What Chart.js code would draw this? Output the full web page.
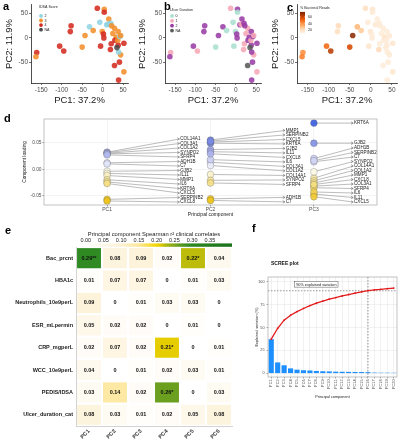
<!DOCTYPE html>
<html>
<head>
<meta charset="utf-8">
<script src="https://cdn.jsdelivr.net/npm/chart.js@4.4.1/dist/chart.umd.min.js"></script>
<style>
html,body{margin:0;padding:0;background:#fff;}
body{position:relative;width:401px;height:440px;overflow:hidden;font-family:'Liberation Sans',Arial,sans-serif;}
canvas{position:absolute;}
.lt{position:absolute;font-weight:bold;color:#000;line-height:1;font-size:11px;}
</style>
</head>
<body>
<canvas id="ca" width="133" height="106" style="left:0px;top:0px"></canvas>
<canvas id="cb" width="133" height="106" style="left:133px;top:0px"></canvas>
<canvas id="cc" width="135" height="106" style="left:266px;top:0px"></canvas>
<canvas id="cd" width="401" height="106" style="left:0px;top:112px"></canvas>
<canvas id="ce" width="240" height="218" style="left:0px;top:222px"></canvas>
<canvas id="cf" width="156" height="145" style="left:245px;top:255px"></canvas>
<div class="lt" style="left:3px;top:1px">a</div>
<div class="lt" style="left:164px;top:1px">b</div>
<div class="lt" style="left:287px;top:2px">c</div>
<div class="lt" style="left:4px;top:113px">d</div>
<div class="lt" style="left:5px;top:225px">e</div>
<div class="lt" style="left:252px;top:223px">f</div>
<script>
// ---------- Panels a–c : PCA sample scores ----------
const pc1Scores = [-13, 4, 4, 15, -77, -79, -32, -7, -23, -43, -50, -105, -95, -161, -163, -1, 3, 2, -5, 10, 13, 17, 20, 25, 29, 38, 33, 21, 19, 30, 38, 52, 41, 29, 39, 44, 52, 39, 35, 37, 42, 22, 44];
const pc2Scores = [61, 59, 53, 39, 25, 13, 23, 32, 15, 5, -19, -17, -27, -30, -39, 13, 0, 8, -17, 27, 28, 28, 30, 9, 20, 13, 1, -12, -24, -5, -15, -11, -50, -57, -87, -35, -70, -29, -20, -5, 3, 25, 5];
const idsaScore = ['4','3','4','3','4','4','2','2','3','3','3','4','4','4','3','3','4','4','4','2','2','2','2','3','3','3','3','4','4','4','4','4','4','4','4','3','3','2','NA','3','2','3','3'];
const ulcerDuration = ['1','2','0','2','2','2','2','0','0','2','0','2','1','1','2','0','2','2','0','2','1','1','2','1','1','2','2','1','1','2','2','2','2','NA','2','1','1','2','NA','1','2','2','1'];
const bacterialReadsPct = [20, 18, 16, 15, 22, 20, 32, 16, 27, 72, 58, 50, 63, 42, 45, 18, 16, 15, 18, 15, 15, 16, 15, 15, 16, 15, 20, 15, 22, 15, 16, 18, 16, 15, 15, 16, 18, 16, 15, 15, 15, 15, 15];
const pc1Ticks = [-150, -100, -50, 0, 50];
const pc2Ticks = [-50, 0, 50];

// ---------- Panel d : component loadings ----------
const loadingPCs = ['PC1', 'PC2', 'PC3'];
const loadingGenes = ['COL14A1','COL3A1','COL1A2','SYNPO2','SFRP4','ADH1B','C7','GJB2','IL11','MMP1','IL6','KRT6A','CXCL5','SERPINB2','CXCL8'];
const loadingsPC1 = [0.032, 0.031, 0.030, 0.029, 0.027, 0.012, 0.010, -0.004, -0.008, -0.012, -0.020, -0.024, -0.027, -0.057, -0.060];
const loadingsPC2 = [-0.010, 0.013, 0.007, -0.021, -0.026, -0.056, -0.059, 0.037, 0.033, 0.055, 0.018, 0.049, 0.051, 0.053, 0.029];
const loadingsPC3 = [-0.017, -0.032, -0.022, -0.005, -0.035, 0.020, 0.014, 0.049, -0.047, -0.026, -0.043, 0.087, -0.052, 0.016, -0.029];
const loadingTicks = [-0.05, 0, 0.05];

// ---------- Panel e : Spearman r² heatmap ----------
const clinicalVars = ['Bac_prcnt','HBA1c','Neutrophils_10e9perL','ESR_mLpermin','CRP_mgperL','WCC_10e9perL','PEDIS/IDSA','Ulcer_duration_cat'];
const heatPCs = ['PC1','PC2','PC3','PC4','PC5','PC6'];
const r2BacPrcnt    = [0.29, 0.08, 0.09, 0.02, 0.22, 0.04];
const r2HBA1c       = [0.01, 0.07, 0.07, 0, 0.01, 0.03];
const r2Neutrophils = [0.09, 0, 0.01, 0.03, 0.03, 0];
const r2ESR         = [0.05, 0.02, 0.02, 0, 0.01, 0];
const r2CRP         = [0.02, 0.07, 0.02, 0.21, 0, 0.01];
const r2WCC         = [0.04, 0, 0.01, 0.02, 0.03, 0.01];
const r2PEDIS       = [0.03, 0.14, 0.02, 0.26, 0, 0.03];
const r2UlcerDur    = [0.08, 0.03, 0.01, 0.02, 0.05, 0.08];
const sigBacPrcnt   = ['**','','','','*',''];
const sigCRP        = ['','','','*','',''];
const sigPEDIS      = ['','','','*','',''];
const colorbarTicks = [0, 0.05, 0.10, 0.15, 0.20, 0.25, 0.30, 0.35];

// ---------- Panel f : scree plot ----------
const screePCs = ['PC1','PC2','PC3','PC4','PC5','PC6','PC7','PC8','PC9','PC10','PC11','PC12','PC13','PC14','PC15','PC16','PC17','PC18','PC19','PC20'];
const explainedVar = [37.2, 11.9, 8.8, 5.4, 4.0, 3.4, 3.1, 2.6, 2.3, 2.1, 1.8, 1.7, 1.6, 1.5, 1.4, 1.3, 0.8, 0.7, 0.7, 0.6];
const cumulativeVar = [37.2, 49.1, 57.9, 63.3, 67.3, 70.7, 73.8, 76.4, 78.7, 80.8, 82.6, 84.3, 85.9, 87.4, 88.8, 90.1, 90.9, 91.6, 92.3, 92.9];
const screeTicks = [0, 25, 50, 75, 100];

// ================= helpers =================
const FONT = "'Liberation Sans', Arial, Helvetica, sans-serif";
Chart.defaults.font.family = FONT;
Chart.defaults.color = '#333';

function hexToRgb(h){h=h.replace('#','');return [parseInt(h.slice(0,2),16),parseInt(h.slice(2,4),16),parseInt(h.slice(4,6),16)];}
function rgba(c,a){return 'rgba('+c[0]+','+c[1]+','+c[2]+','+a+')';}
function rampColor(stops, v, a){
  if(a===undefined) a=1;
  if(v<=stops[0][0]) return rgba(hexToRgb(stops[0][1]),a);
  for(let k=1;k<stops.length;k++){
    if(v<=stops[k][0]){
      const v0=stops[k-1][0], v1=stops[k][0];
      const A=hexToRgb(stops[k-1][1]), B=hexToRgb(stops[k][1]);
      const t=(v-v0)/(v1-v0);
      return rgba(A.map((x,i)=>Math.round(x+(B[i]-x)*t)),a);
    }
  }
  return rgba(hexToRgb(stops[stops.length-1][1]),a);
}

const idsaColors = {'2':'#8fd4e2','3':'#f4902c','4':'#d42a20','NA':'#4d4d4d'};
const ulcerColors = {'0':'#abe0d0','1':'#f5a8b6','2':'#9a3ea6','NA':'#5a5a5a'};
const bacStops = [[10,'#fff5eb'],[18,'#fee6ce'],[26,'#fdd0a2'],[34,'#fdae6b'],[42,'#fd8d3c'],[50,'#f16913'],[58,'#d94801'],[66,'#a63603'],[75,'#7f2704']];
const heatStops = [[0,'#ffffff'],[0.10,'#fdf1d6'],[0.15,'#fde796'],[0.20,'#f2d600'],[0.21,'#e6cd00'],[0.22,'#bdbc0a'],[0.26,'#6a9f1f'],[0.29,'#2f8a23'],[0.40,'#1b741b']];
const loadPosStops = [[0,'#ffffff'],[0.03,'#aab1ec'],[0.05,'#7e8de6'],[0.09,'#3158e0']];
const loadNegStops = [[-0.06,'#f0c419'],[-0.02,'#f6e59a'],[0,'#ffffff']];

function makeLegend(cfg){
  return {id:'ptLegend', afterDraw(chart){
    const ctx=chart.ctx, ca=chart.chartArea;
    const x0=ca.left+cfg.dx, y0=ca.top+cfg.dy;
    ctx.save();
    ctx.font='3.6px '+FONT; ctx.fillStyle='#222'; ctx.textBaseline='middle'; ctx.textAlign='left';
    ctx.fillText(cfg.title, x0, y0);
    if(cfg.items){
      cfg.items.forEach((it,k)=>{
        const yy=y0+cfg.first+k*cfg.step;
        ctx.beginPath(); ctx.arc(x0+2,yy,1.9,0,Math.PI*2); ctx.fillStyle=it.color; ctx.fill();
        ctx.fillStyle='#222'; ctx.fillText(it.label,x0+5.5,yy);
      });
    }
    if(cfg.gradient){
      const g=cfg.gradient, gx=x0, gy0=y0+g.top, gy1=y0+g.bottom;
      const grad=ctx.createLinearGradient(0,gy0,0,gy1);
      for(let k=0;k<=20;k++){const t=k/20; grad.addColorStop(t, rampColor(bacStops, g.max-(g.max-g.min)*t));}
      ctx.fillStyle=grad; ctx.fillRect(gx,gy0,5,gy1-gy0);
      g.labels.forEach(v=>{
        const yy=gy0+(g.max-v)/(g.max-g.min)*(gy1-gy0);
        ctx.fillStyle='#222'; ctx.fillText(String(v), gx+8, yy);
        ctx.strokeStyle='#fff'; ctx.lineWidth=0.4; ctx.beginPath();
        ctx.moveTo(gx,yy); ctx.lineTo(gx+1,yy); ctx.moveTo(gx+4,yy); ctx.lineTo(gx+5,yy); ctx.stroke();
      });
    }
    ctx.restore();
  }};
}

function scatterConfig(colors, yAxisWidth, padRight, legendPlugin){
  const axisGrid = {drawOnChartArea:false, drawTicks:true, tickLength:2, color:'#333', lineWidth:0.7};
  return {
    type:'scatter',
    data:{datasets:[{data:pc1Scores.map((v,i)=>({x:v,y:pc2Scores[i]})), pointBackgroundColor:colors, pointBorderColor:colors, pointBorderWidth:0, pointRadius:2.8}]},
    options:{responsive:false, animation:false, events:[],
      layout:{padding:{top:3,right:padRight,left:0,bottom:0}},
      plugins:{legend:{display:false}, tooltip:{enabled:false}},
      scales:{
        x:{type:'linear', min:-175, max:62,
           afterBuildTicks:s=>{s.ticks=pc1Ticks.map(v=>({value:v}));}, afterFit:s=>{s.height=23;},
           grid:axisGrid, border:{color:'#222',width:0.8},
           ticks:{autoSkip:false, maxRotation:0, font:{size:6.5}, color:'#4d4d4d', padding:1, callback:v=>String(v)},
           title:{display:true, text:'PC1: 37.2%', font:{size:9.5}, color:'#1a1a1a', padding:{top:0,bottom:0}}},
        y:{type:'linear', min:-93, max:68,
           afterBuildTicks:s=>{s.ticks=pc2Ticks.map(v=>({value:v}));}, afterFit:s=>{s.width=yAxisWidth;},
           grid:axisGrid, border:{color:'#222',width:0.8},
           ticks:{autoSkip:false, font:{size:6.5}, color:'#4d4d4d', padding:1, callback:v=>String(v)},
           title:{display:true, text:'PC2: 11.9%', font:{size:9.5}, color:'#1a1a1a', padding:{top:4,bottom:0}}}
      }},
    plugins:[legendPlugin]
  };
}

// ---- a ----
new Chart(document.getElementById('ca'), scatterConfig(
  idsaScore.map(c=>rgba(hexToRgb(idsaColors[c]),0.88)), 31, 5,
  makeLegend({dx:8, dy:2.5, title:'IDSA Score', first:8.5, step:4.6,
    items:['2','3','4','NA'].map(k=>({label:k,color:idsaColors[k]}))})));
// ---- b ----
new Chart(document.getElementById('cb'), scatterConfig(
  ulcerDuration.map(c=>rgba(hexToRgb(ulcerColors[c]),0.88)), 32, 5,
  makeLegend({dx:5, dy:5, title:'Ulcer Duration', first:6, step:4.9,
    items:['0','1','2','NA'].map(k=>({label:k,color:ulcerColors[k]}))})));
// ---- c ----
new Chart(document.getElementById('cc'), scatterConfig(
  bacterialReadsPct.map(v=>rampColor(bacStops,v,0.88)), 31, 4,
  makeLegend({dx:3, dy:3, title:'% Bacterial Reads', gradient:{top:4, bottom:25.7, min:10, max:75, labels:[60,40,20]}})));

// ---- d ----
function repel(vals, gap, lo, hi){
  const idx=vals.map((v,i)=>i).sort((a,b)=>vals[b]-vals[a]);
  const y=idx.map(i=>vals[i]);
  for(let it=0;it<800;it++){
    for(let k=0;k<y.length-1;k++){
      const d=y[k]-y[k+1];
      if(d<gap){const s=(gap-d)/2; y[k]+=s; y[k+1]-=s;}
    }
    for(let k=0;k<y.length;k++){y[k]=Math.min(hi,Math.max(lo,y[k]));}
  }
  const out=new Array(vals.length);
  idx.forEach((i,k)=>{out[i]=y[k];});
  return out;
}
const loadings=[loadingsPC1, loadingsPC2, loadingsPC3];
const labelNudge=[0.70, 0.72, 0.38];
const labelY=loadings.map(l=>repel(l, 0.0085, -0.062, 0.09));
function loadColor(v){
  return v>=0 ? rampColor(loadPosStops, v, 0.9) : rampColor(loadNegStops, v, 0.9);
}
const dDatasets=[];
loadings.forEach((l,k)=>{
  const segs=[];
  loadingGenes.forEach((g,i)=>{
    segs.push({x:k+1,y:l[i]},{x:k+1+labelNudge[k],y:labelY[k][i]},{x:k+1,y:null});
  });
  dDatasets.push({type:'line', data:segs, borderColor:'#8f8f8f', borderWidth:0.6, pointRadius:0, spanGaps:false, order:2});
  dDatasets.push({type:'scatter', data:loadingGenes.map((g,i)=>({x:k+1,y:l[i]})), pointBackgroundColor:l.map(loadColor),
    pointBorderColor:'rgba(90,90,90,0.5)', pointBorderWidth:0.6, pointRadius:3.4, order:1});
});
const frameColor='#a8a8a8';
const dPlugin={id:'dLabels',
  afterDatasetsDraw(chart){
    const ctx=chart.ctx, xs=chart.scales.x, ys=chart.scales.y;
    ctx.save(); ctx.font='4.6px '+FONT; ctx.fillStyle='#222'; ctx.textBaseline='middle'; ctx.textAlign='left';
    ctx.strokeStyle='#555'; ctx.lineWidth=0.5;
    loadings.forEach((l,k)=>{
      loadingGenes.forEach((g,i)=>{
        const px=xs.getPixelForValue(k+1+labelNudge[k]), py=ys.getPixelForValue(labelY[k][i]);
        ctx.beginPath(); ctx.moveTo(px-2.2,py-1.3); ctx.lineTo(px,py); ctx.lineTo(px-2.2,py+1.3); ctx.stroke();
        ctx.fillText(g, px+0.8, py);
      });
    });
    const ca=chart.chartArea; ctx.strokeStyle=frameColor; ctx.lineWidth=0.7;
    ctx.strokeRect(ca.left,ca.top,ca.right-ca.left,ca.bottom-ca.top);
    ctx.restore();
  }};
const lightGrid={color:'#ebebeb', lineWidth:0.6, tickColor:'#555', tickLength:1.5};
new Chart(document.getElementById('cd'), {
  type:'scatter', data:{datasets:dDatasets},
  options:{responsive:false, animation:false, events:[],
    layout:{padding:{left:0,right:24,top:7,bottom:0}},
    plugins:{legend:{display:false}, tooltip:{enabled:false}},
    scales:{
      x:{type:'linear', min:0.39, max:3.61, afterBuildTicks:s=>{s.ticks=[1,2,3].map(v=>({value:v}));}, afterFit:s=>{s.height=13;},
         grid:lightGrid, border:{display:false},
         ticks:{autoSkip:false, maxRotation:0, font:{size:5}, color:'#4d4d4d', padding:0.5, callback:v=>loadingPCs[v-1]},
         title:{display:true, text:'Principal component', font:{size:5}, color:'#1a1a1a', padding:{top:0,bottom:0}}},
      y:{type:'linear', min:-0.0676, max:0.0947, afterBuildTicks:s=>{s.ticks=loadingTicks.map(v=>({value:v}));}, afterFit:s=>{s.width=44;},
         grid:lightGrid, border:{display:false},
         ticks:{autoSkip:false, font:{size:4.8}, color:'#4d4d4d', padding:1, callback:v=>v.toFixed(2)},
         title:{display:true, text:'Component loading', font:{size:4.8}, color:'#1a1a1a', padding:{top:22,bottom:0}}}
    }},
  plugins:[dPlugin]
});

// ---- e ----
const r2Values=[r2BacPrcnt, r2HBA1c, r2Neutrophils, r2ESR, r2CRP, r2WCC, r2PEDIS, r2UlcerDur];
const noSig=['','','','','',''];
const sigMarks=[sigBacPrcnt, noSig, noSig, noSig, sigCRP, noSig, sigPEDIS, noSig];
const heatDatasets=r2Values.map((row,i)=>({
  data:row.map(()=>[i-0.45,i+0.45]),
  backgroundColor:row.map(v=>rampColor(heatStops,v)),
  grouped:false, barPercentage:0.92, categoryPercentage:1, borderWidth:0, xAxisID:'x', yAxisID:'y'
}));
const ePlugin={id:'heatText',
  afterDatasetsDraw(chart){
    const ctx=chart.ctx;
    ctx.save(); ctx.font='bold 5.5px '+FONT; ctx.fillStyle='#111'; ctx.textAlign='center'; ctx.textBaseline='middle';
    r2Values.forEach((row,i)=>{
      const meta=chart.getDatasetMeta(i);
      row.forEach((v,j)=>{
        const el=meta.data[j];
        ctx.fillText(String(v)+sigMarks[i][j], el.x, (el.y+el.base)/2);
      });
    });
    const cb=chart.scales.cb, ca=chart.chartArea;
    const x0=cb.left, x1=cb.right, y0=ca.top-3.6, y1=ca.top-0.2;
    const grad=ctx.createLinearGradient(x0,0,x1,0);
    for(let k=0;k<=40;k++){const t=k/40; grad.addColorStop(t, rampColor(heatStops, cb.getValueForPixel(x0+(x1-x0)*t)));}
    ctx.fillStyle=grad; ctx.fillRect(x0,y0,x1-x0,y1-y0);
    ctx.restore();
  }};
new Chart(document.getElementById('ce'), {
  type:'bar', data:{labels:heatPCs, datasets:heatDatasets},
  options:{responsive:false, animation:false, events:[],
    layout:{padding:{left:0,right:8,top:0,bottom:0}},
    plugins:{legend:{display:false}, tooltip:{enabled:false}},
    scales:{
      x:{type:'category', position:'bottom', offset:true, grid:{drawOnChartArea:false, drawTicks:false}, border:{color:'#c8c8c8',width:0.8},
         ticks:{autoSkip:false, minRotation:45, maxRotation:45, font:{size:5.5, weight:'bold'}, color:'#333', padding:2},
         afterFit:s=>{s.height=14;}},
      cb:{type:'linear', axis:'x', position:'top', min:0, max:0.385,
         afterBuildTicks:s=>{s.ticks=colorbarTicks.map(v=>({value:v}));}, afterFit:s=>{s.height=25;},
         grid:{drawOnChartArea:false, drawTicks:false}, border:{display:false},
         ticks:{autoSkip:false, maxRotation:0, font:{size:5.5}, color:'#222', padding:3, callback:v=>v.toFixed(2)},
         title:{display:true, text:'Principal component Spearman r² clinical correlates', font:{size:5.8}, color:'#222', padding:{top:9,bottom:0}}},
      y:{type:'linear', reverse:true, min:-0.5, max:7.5,
         afterBuildTicks:s=>{s.ticks=clinicalVars.map((n,i)=>({value:i}));}, afterFit:s=>{s.width=76;},
         grid:{drawOnChartArea:false, drawTicks:false}, border:{color:'#c8c8c8',width:0.8},
         ticks:{autoSkip:false, font:{size:5.5, weight:'bold'}, color:'#1a1a1a', padding:3, callback:v=>clinicalVars[v]}}
    }},
  plugins:[ePlugin]
});

// ---- f ----
const cutoffIndex=cumulativeVar.findIndex(v=>v>=90);
const fPlugin={id:'scree',
  beforeDatasetsDraw(chart){
    const ctx=chart.ctx, ca=chart.chartArea, xs=chart.scales.x, ys=chart.scales.y;
    ctx.save(); ctx.setLineDash([1.5,1.5]); ctx.strokeStyle='#333'; ctx.lineWidth=0.5;
    const yy=ys.getPixelForValue(90); ctx.beginPath(); ctx.moveTo(ca.left,yy); ctx.lineTo(ca.right,yy); ctx.stroke();
    const xx=xs.getPixelForValue(cutoffIndex); ctx.beginPath(); ctx.moveTo(xx,ca.top); ctx.lineTo(xx,ca.bottom); ctx.stroke();
    ctx.restore();
  },
  afterDraw(chart){
    const ctx=chart.ctx, ca=chart.chartArea, xs=chart.scales.x, ys=chart.scales.y;
    ctx.save();
    ctx.font='3.8px '+FONT; ctx.textAlign='center'; ctx.textBaseline='middle';
    const txt='90% explained variation'; const w=ctx.measureText(txt).width+3;
    const lx=xs.getPixelForValue(7), ly=ys.getPixelForValue(97);
    ctx.fillStyle='#fff'; ctx.fillRect(lx-w/2,ly-2.8,w,5.6);
    ctx.strokeStyle='#555'; ctx.lineWidth=0.5; ctx.strokeRect(lx-w/2,ly-2.8,w,5.6);
    ctx.fillStyle='#222'; ctx.fillText(txt,lx,ly+0.2);
    ctx.strokeStyle='#9a9a9a'; ctx.lineWidth=0.6; ctx.strokeRect(ca.left,ca.top,ca.right-ca.left,ca.bottom-ca.top);
    ctx.font='bold 5px '+FONT; ctx.textAlign='left'; ctx.fillStyle='#111';
    ctx.fillText('SCREE plot', 26, 9);
    ctx.restore();
  }};
const screeGrid={color:'#e3e3e3', lineWidth:0.5, tickColor:'#555', tickLength:1.5, offset:false};
new Chart(document.getElementById('cf'), {
  type:'bar',
  data:{labels:screePCs, datasets:[
    {type:'line', data:cumulativeVar, borderColor:'#e41a1c', backgroundColor:'#e41a1c', borderWidth:1.3, pointRadius:0.9, pointBorderWidth:0, order:0},
    {type:'bar', data:explainedVar, backgroundColor:'#1e8fff', barPercentage:0.8, categoryPercentage:1, order:1}
  ]},
  options:{responsive:false, animation:false, events:[],
    layout:{padding:{left:0,right:4,top:22,bottom:0}},
    plugins:{legend:{display:false}, tooltip:{enabled:false}},
    scales:{
      x:{type:'category', offset:true, grid:screeGrid, border:{display:false}, afterFit:s=>{s.height=23;},
         ticks:{autoSkip:false, minRotation:90, maxRotation:90, font:{size:3.8}, color:'#4d4d4d', padding:1},
         title:{display:true, text:'Principal component', font:{size:3.8}, color:'#1a1a1a', padding:{top:0,bottom:1}}},
      y:{type:'linear', min:-4, max:105, afterBuildTicks:s=>{s.ticks=screeTicks.map(v=>({value:v}));}, afterFit:s=>{s.width=23;},
         grid:screeGrid, border:{display:false},
         ticks:{autoSkip:false, font:{size:3.8}, color:'#4d4d4d', padding:2, callback:v=>String(v)},
         title:{display:true, text:'Explained variation (%)', font:{size:3.8}, color:'#1a1a1a', padding:{top:9.4,bottom:0}}}
    }},
  plugins:[fPlugin]
});
</script>
</body>
</html>
